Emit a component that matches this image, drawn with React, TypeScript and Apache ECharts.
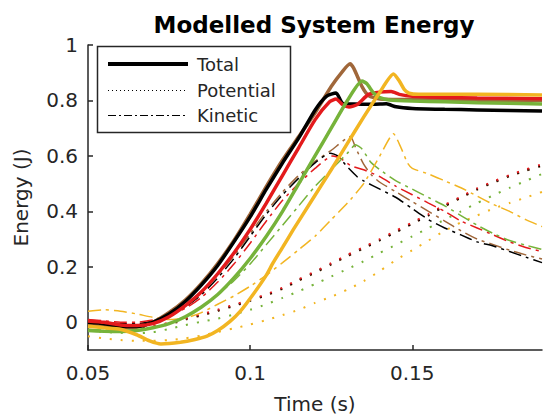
import React, { useEffect, useRef } from "react";
import * as echarts from "echarts";

type Pt = [number, number];

const xTicks = [0.05, 0.1, 0.15];
const yTicks = [0, 0.2, 0.4, 0.6, 0.8, 1];
const legendLabels = ["Total", "Potential", "Kinetic"];

// ---- Total energy (solid) ----
const blackTotal: Pt[] = [
  [0.05, 0.0], [0.055, -0.005], [0.06, -0.015], [0.065, -0.015], [0.07, 0.0], [0.075, 0.03],
  [0.08, 0.075], [0.085, 0.135], [0.09, 0.205], [0.095, 0.29], [0.1, 0.38], [0.105, 0.48],
  [0.11, 0.575], [0.115, 0.665], [0.12, 0.765], [0.1235, 0.815], [0.1265, 0.827], [0.1285, 0.79],
  [0.132, 0.787], [0.138, 0.786], [0.142, 0.788], [0.145, 0.777], [0.15, 0.771], [0.16, 0.768],
  [0.17, 0.766], [0.18, 0.764], [0.19, 0.762],
];
const brownTotal: Pt[] = [
  [0.05, -0.01], [0.055, -0.015], [0.06, -0.02], [0.065, -0.018], [0.07, 0.0], [0.075, 0.035],
  [0.08, 0.08], [0.085, 0.14], [0.09, 0.212], [0.095, 0.295], [0.1, 0.39], [0.105, 0.49],
  [0.11, 0.585], [0.115, 0.67], [0.12, 0.755], [0.125, 0.85], [0.1285, 0.905], [0.1308, 0.932],
  [0.132, 0.915], [0.1345, 0.85], [0.1365, 0.818], [0.14, 0.805], [0.15, 0.803], [0.16, 0.802],
  [0.17, 0.801], [0.19, 0.8],
];
const redTotal: Pt[] = [
  [0.05, 0.005], [0.055, 0.0], [0.06, -0.01], [0.065, -0.012], [0.07, -0.005], [0.075, 0.02],
  [0.08, 0.06], [0.085, 0.11], [0.09, 0.175], [0.095, 0.25], [0.1, 0.335], [0.105, 0.43],
  [0.11, 0.53], [0.115, 0.63], [0.12, 0.73], [0.1245, 0.795], [0.1265, 0.805], [0.1285, 0.785],
  [0.1305, 0.776], [0.133, 0.785], [0.1365, 0.822], [0.14, 0.83], [0.1435, 0.832], [0.146, 0.822],
  [0.15, 0.815], [0.16, 0.811], [0.17, 0.809], [0.19, 0.806],
];
const greenTotal: Pt[] = [
  [0.05, -0.03], [0.055, -0.032], [0.06, -0.033], [0.065, -0.03], [0.07, -0.02], [0.075, -0.005],
  [0.08, 0.02], [0.085, 0.055], [0.09, 0.1], [0.095, 0.16], [0.1, 0.23], [0.105, 0.31],
  [0.11, 0.4], [0.115, 0.5], [0.12, 0.6], [0.125, 0.7], [0.13, 0.8], [0.1345, 0.87],
  [0.136, 0.86], [0.138, 0.828], [0.14, 0.81], [0.143, 0.802], [0.15, 0.798], [0.16, 0.795],
  [0.17, 0.792], [0.19, 0.787],
];
const yellowTotal: Pt[] = [
  [0.05, -0.014], [0.055, -0.02], [0.06, -0.025], [0.065, -0.045], [0.069, -0.067], [0.0725, -0.078],
  [0.0785, -0.072], [0.083, -0.062], [0.0867, -0.05], [0.09, -0.03], [0.0938, 0.003], [0.097, 0.04],
  [0.1009, 0.1], [0.105, 0.17], [0.1071, 0.215], [0.11, 0.27], [0.1133, 0.334], [0.1185, 0.43],
  [0.125, 0.55], [0.13, 0.645], [0.135, 0.74], [0.14, 0.83], [0.1442, 0.895], [0.146, 0.87],
  [0.1475, 0.84], [0.149, 0.826], [0.152, 0.822], [0.16, 0.822], [0.17, 0.822], [0.19, 0.82],
];

// ---- Potential energy (dotted) ----
const blackPotential: Pt[] = [
  [0.05, 0.0], [0.055, -0.008], [0.06, -0.012], [0.065, -0.015], [0.07, -0.015], [0.075, -0.005],
  [0.08, 0.012], [0.085, 0.026], [0.09, 0.042], [0.095, 0.06], [0.1, 0.078], [0.105, 0.098],
  [0.11, 0.122], [0.115, 0.152], [0.12, 0.18], [0.125, 0.21], [0.13, 0.24], [0.135, 0.268],
  [0.14, 0.296], [0.145, 0.326], [0.15, 0.356], [0.155, 0.386], [0.16, 0.42], [0.165, 0.45],
  [0.17, 0.48], [0.175, 0.505], [0.18, 0.528], [0.185, 0.548], [0.19, 0.566],
];
const brownPotential: Pt[] = [
  [0.05, -0.01], [0.055, -0.014], [0.06, -0.018], [0.065, -0.02], [0.07, -0.018], [0.075, -0.008],
  [0.08, 0.009], [0.085, 0.024], [0.09, 0.04], [0.095, 0.058], [0.1, 0.077], [0.105, 0.097],
  [0.11, 0.12], [0.115, 0.15], [0.12, 0.178], [0.125, 0.208], [0.13, 0.238], [0.135, 0.266],
  [0.14, 0.295], [0.145, 0.325], [0.15, 0.355], [0.155, 0.385], [0.16, 0.418], [0.165, 0.448],
  [0.17, 0.478], [0.175, 0.503], [0.18, 0.526], [0.185, 0.546], [0.19, 0.564],
];
const redPotential: Pt[] = [
  [0.05, 0.005], [0.055, -0.004], [0.06, -0.01], [0.065, -0.013], [0.07, -0.012], [0.075, -0.002],
  [0.08, 0.014], [0.085, 0.029], [0.09, 0.045], [0.095, 0.063], [0.1, 0.081], [0.105, 0.101],
  [0.11, 0.125], [0.115, 0.155], [0.12, 0.183], [0.125, 0.213], [0.13, 0.243], [0.135, 0.271],
  [0.14, 0.3], [0.145, 0.33], [0.15, 0.36], [0.155, 0.39], [0.16, 0.423], [0.165, 0.453],
  [0.17, 0.483], [0.175, 0.508], [0.18, 0.531], [0.185, 0.551], [0.19, 0.57],
];
const greenPotential: Pt[] = [
  [0.05, -0.03], [0.055, -0.035], [0.06, -0.038], [0.065, -0.04], [0.07, -0.036], [0.075, -0.024],
  [0.08, -0.01], [0.085, 0.002], [0.09, 0.013], [0.095, 0.028], [0.1, 0.045], [0.105, 0.065],
  [0.11, 0.088], [0.115, 0.112], [0.12, 0.138], [0.125, 0.165], [0.13, 0.192], [0.135, 0.22],
  [0.14, 0.25], [0.145, 0.28], [0.15, 0.31], [0.155, 0.34], [0.16, 0.37], [0.165, 0.4],
  [0.17, 0.43], [0.175, 0.458], [0.18, 0.485], [0.185, 0.51], [0.19, 0.535],
];
const yellowPotential: Pt[] = [
  [0.05, -0.05], [0.055, -0.058], [0.06, -0.064], [0.065, -0.067], [0.07, -0.067], [0.075, -0.064],
  [0.08, -0.058], [0.085, -0.048], [0.09, -0.035], [0.095, -0.022], [0.1, -0.008], [0.105, 0.008],
  [0.11, 0.026], [0.115, 0.045], [0.12, 0.07], [0.125, 0.092], [0.13, 0.118], [0.135, 0.148],
  [0.14, 0.185], [0.145, 0.225], [0.15, 0.26], [0.155, 0.295], [0.16, 0.33], [0.165, 0.36],
  [0.17, 0.385], [0.175, 0.41], [0.18, 0.43], [0.185, 0.45], [0.19, 0.47],
];

// ---- Kinetic energy (dash-dot) ----
const blackKinetic: Pt[] = [
  [0.05, 0.005], [0.055, 0.0], [0.06, -0.005], [0.065, -0.005], [0.07, 0.005], [0.075, 0.025],
  [0.08, 0.055], [0.085, 0.1], [0.09, 0.16], [0.095, 0.23], [0.1, 0.31], [0.105, 0.39],
  [0.11, 0.46], [0.115, 0.52], [0.12, 0.575], [0.1247, 0.61], [0.127, 0.6], [0.13, 0.56],
  [0.133, 0.525], [0.135, 0.51], [0.14, 0.48], [0.145, 0.45], [0.15, 0.41], [0.155, 0.37],
  [0.16, 0.34], [0.165, 0.315], [0.17, 0.29], [0.175, 0.275], [0.18, 0.255], [0.185, 0.235],
  [0.19, 0.215],
];
const brownKinetic: Pt[] = [
  [0.05, 0.0], [0.055, -0.005], [0.06, -0.01], [0.065, -0.008], [0.07, 0.005], [0.075, 0.03],
  [0.08, 0.065], [0.085, 0.11], [0.09, 0.17], [0.095, 0.24], [0.1, 0.32], [0.105, 0.4],
  [0.11, 0.47], [0.115, 0.53], [0.12, 0.58], [0.125, 0.62], [0.1309, 0.67], [0.1325, 0.63],
  [0.135, 0.57], [0.1375, 0.53], [0.14, 0.505], [0.145, 0.47], [0.15, 0.435], [0.155, 0.4],
  [0.16, 0.365], [0.165, 0.33], [0.17, 0.3], [0.175, 0.28], [0.18, 0.26], [0.185, 0.243],
  [0.19, 0.228],
];
const redKinetic: Pt[] = [
  [0.05, 0.01], [0.055, 0.005], [0.06, 0.0], [0.065, 0.0], [0.07, 0.008], [0.075, 0.025],
  [0.08, 0.05], [0.085, 0.09], [0.09, 0.145], [0.095, 0.21], [0.1, 0.285], [0.105, 0.365],
  [0.11, 0.44], [0.115, 0.5], [0.12, 0.555], [0.1255, 0.6], [0.128, 0.59], [0.131, 0.565],
  [0.135, 0.55], [0.14, 0.525], [0.145, 0.49], [0.15, 0.46], [0.155, 0.43], [0.16, 0.4],
  [0.165, 0.365], [0.17, 0.34], [0.175, 0.315], [0.18, 0.29], [0.185, 0.27], [0.19, 0.255],
];
const greenKinetic: Pt[] = [
  [0.05, -0.025], [0.055, -0.028], [0.06, -0.03], [0.065, -0.028], [0.07, -0.02], [0.075, -0.005],
  [0.08, 0.02], [0.085, 0.055], [0.09, 0.1], [0.095, 0.15], [0.1, 0.21], [0.105, 0.28],
  [0.11, 0.35], [0.115, 0.42], [0.12, 0.49], [0.125, 0.55], [0.13, 0.61], [0.1325, 0.64],
  [0.1345, 0.625], [0.137, 0.58], [0.14, 0.55], [0.145, 0.51], [0.15, 0.48], [0.155, 0.45],
  [0.16, 0.42], [0.165, 0.385], [0.17, 0.35], [0.175, 0.32], [0.18, 0.295], [0.185, 0.278],
  [0.19, 0.263],
];
const yellowKinetic: Pt[] = [
  [0.05, 0.04], [0.055, 0.045], [0.06, 0.04], [0.065, 0.03], [0.07, 0.018], [0.075, 0.01],
  [0.08, 0.015], [0.085, 0.035], [0.09, 0.065], [0.095, 0.095], [0.1, 0.13], [0.105, 0.17],
  [0.11, 0.215], [0.115, 0.262], [0.12, 0.31], [0.125, 0.37], [0.13, 0.43], [0.135, 0.5],
  [0.14, 0.6], [0.1442, 0.68], [0.1465, 0.63], [0.1485, 0.575], [0.15, 0.555], [0.155, 0.535],
  [0.16, 0.51], [0.165, 0.485], [0.17, 0.455], [0.175, 0.425], [0.18, 0.4], [0.185, 0.37],
  [0.19, 0.345],
];

const runs = [
  { name: "brown", color: "#A0673A", total: brownTotal, pot: brownPotential, kin: brownKinetic },
  { name: "black", color: "#000000", total: blackTotal, pot: blackPotential, kin: blackKinetic },
  { name: "red", color: "#E31A1C", total: redTotal, pot: redPotential, kin: redKinetic },
  { name: "green", color: "#76B33A", total: greenTotal, pot: greenPotential, kin: greenKinetic },
  { name: "yellow", color: "#F2B522", total: yellowTotal, pot: yellowPotential, kin: yellowKinetic },
];

const AX = "#262626";
const FONT = "DejaVu Sans";

export default function App() {
  const ref = useRef<HTMLDivElement>(null);
  useEffect(() => {
    document.body.style.margin = "0";
    if (!ref.current) return;
    const chart = echarts.init(ref.current, undefined, { renderer: "svg" });

    const series: any[] = [];
    runs.forEach((r) => {
      series.push({
        type: "line", name: r.name + " Potential", data: r.pot, showSymbol: false, smooth: 0.2,
        lineStyle: { color: r.color, width: 2, type: [2, 9] }, z: 2,
      });
    });
    runs.forEach((r) => {
      series.push({
        type: "line", name: r.name + " Kinetic", data: r.kin, showSymbol: false, smooth: 0.2,
        lineStyle: { color: r.color, width: 1.5, type: [13, 5, 3, 5] }, z: 2,
      });
    });
    runs.forEach((r) => {
      series.push({
        type: "line", name: r.name + " Total", data: r.total, showSymbol: false, smooth: 0.2,
        lineStyle: { color: r.color, width: 3.5 }, z: 3,
      });
    });

    const lx0 = 108, lx1 = 188;
    const rows = [64, 90.5, 115.5];
    const legendGraphics: any[] = [
      { type: "rect", shape: { x: 97.5, y: 46.5, width: 193, height: 86 },
        style: { fill: "#fff", stroke: AX, lineWidth: 1.5 }, z: 100 },
      { type: "line", shape: { x1: lx0, y1: rows[0], x2: lx1, y2: rows[0] },
        style: { stroke: "#000", lineWidth: 4 }, z: 101 },
      { type: "line", shape: { x1: lx0, y1: rows[1], x2: lx1, y2: rows[1] },
        style: { stroke: "#000", lineWidth: 1, lineDash: [1, 3] }, z: 101 },
      { type: "line", shape: { x1: lx0, y1: rows[2], x2: lx1, y2: rows[2] },
        style: { stroke: "#000", lineWidth: 1.2, lineDash: [8, 3, 2, 3] }, z: 101 },
      ...legendLabels.map((t, i) => ({
        type: "text", x: 197, y: rows[i], z: 101,
        style: { text: t, fill: AX, font: `18px "${FONT}"`, verticalAlign: "middle", align: "left" },
      })),
      { type: "text", x: 314, y: 25, z: 101,
        style: { text: "Modelled System Energy", fill: "#000", font: `bold 23px "${FONT}"`,
          align: "center", verticalAlign: "middle" } },
    ];

    chart.setOption({
      animation: false,
      grid: { left: 88, right: 2, top: 45, bottom: 63 },
      xAxis: {
        type: "value", min: 0.05, max: 0.19, interval: 0.05,
        name: "Time (s)", nameLocation: "middle", nameGap: 44,
        nameTextStyle: { fontFamily: FONT, fontSize: 20, color: AX },
        axisLine: { onZero: false, lineStyle: { color: AX, width: 1.5 } },
        axisTick: { inside: true, length: 5, customValues: xTicks, lineStyle: { color: AX, width: 1.5 } },
        axisLabel: { customValues: xTicks, fontFamily: FONT, fontSize: 20, color: AX, margin: 13,
          formatter: (v: number) => String(v) },
        splitLine: { show: false },
      },
      yAxis: {
        type: "value", min: -0.1, max: 1,
        name: "Energy (J)", nameLocation: "middle", nameGap: 57,
        nameTextStyle: { fontFamily: FONT, fontSize: 20, color: AX },
        axisLine: { show: true, onZero: false, lineStyle: { color: AX, width: 1.5 } },
        axisTick: { show: true, inside: true, length: 5, customValues: yTicks, lineStyle: { color: AX, width: 1.5 } },
        axisLabel: { customValues: yTicks, fontFamily: FONT, fontSize: 20, color: AX, margin: 10,
          formatter: (v: number) => String(v) },
        splitLine: { show: false },
      },
      series,
      graphic: legendGraphics,
    });
    return () => chart.dispose();
  }, []);
  return <div ref={ref} style={{ width: 544, height: 419 }} />;
}
